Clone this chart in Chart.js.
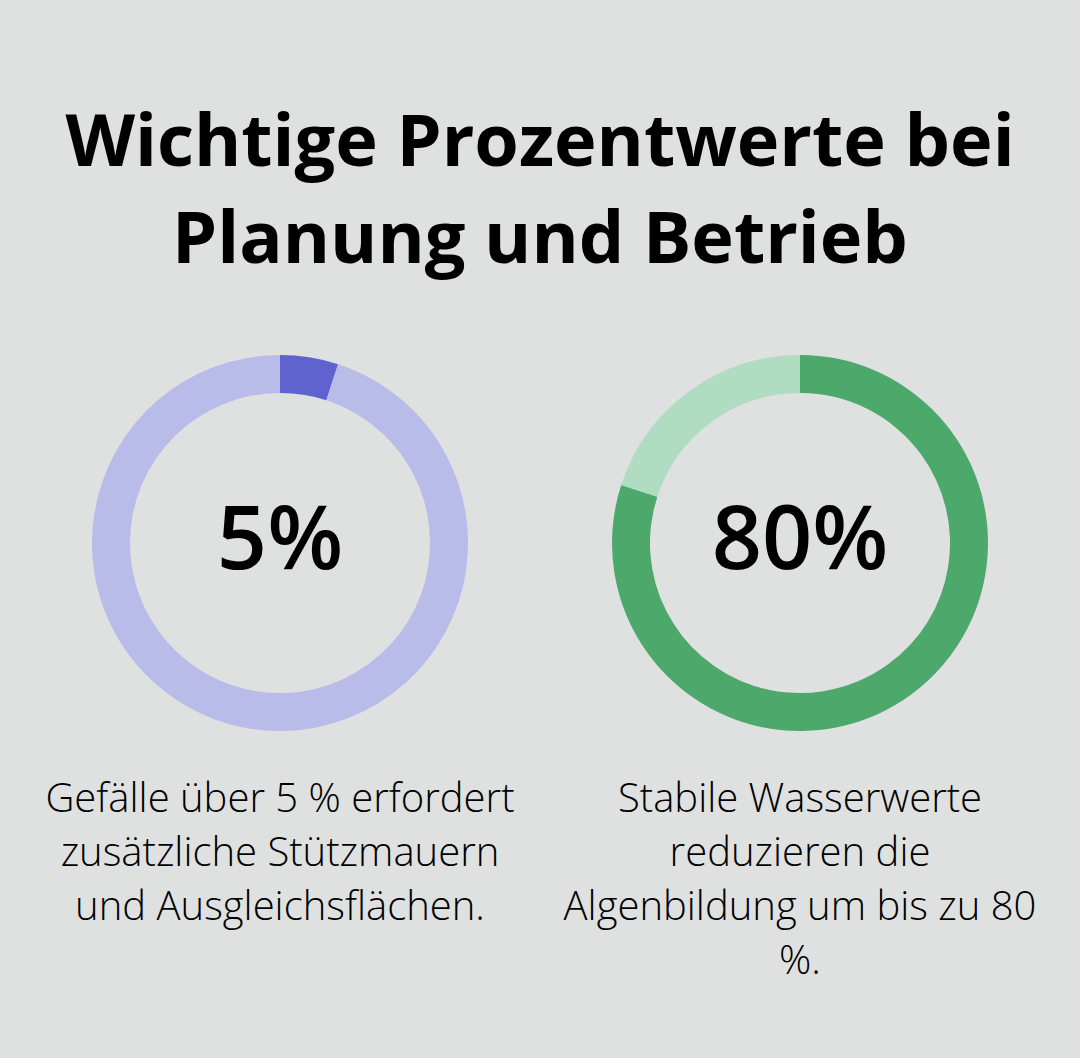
<!DOCTYPE html>
<html>
<head>
<meta charset="utf-8">
<script src="https://cdn.jsdelivr.net/npm/chart.js@4"></script>
<style>
  html, body { margin:0; padding:0; background:#dfe1e0; }
  body { width:1080px; height:1058px; position:relative; overflow:hidden; font-family:"Open Sans", sans-serif; color:#000; }
  #title { position:absolute; left:0; top:90px; width:1080px; text-align:center; font-weight:700; font-size:72px; line-height:97px; margin:0; }
  .box { position:absolute; width:376px; height:376px; top:355px; }
  .center { position:absolute; left:0; top:-8px; width:376px; height:376px; display:flex; align-items:center; justify-content:center; font-size:88px; font-weight:600; pointer-events:none; }
  .cap { position:absolute; top:770px; width:480px; text-align:center; font-size:40px; font-weight:300; line-height:54px; }
</style>
</head>
<body>
<h1 id="title">Wichtige Prozentwerte bei<br>Planung und Betrieb</h1>
<div class="box" style="left:92px"><canvas id="c1"></canvas><div class="center" id="v1"></div></div>
<div class="box" style="left:612px"><canvas id="c2"></canvas><div class="center" id="v2"></div></div>
<div class="cap" id="t1" style="left:40px"></div>
<div class="cap" id="t2" style="left:560px"></div>
<script>
const labels = ["Anteil", "Rest"];
const values1 = [5, 95];
const values2 = [80, 20];
const centerLabels = ["5%", "80%"];
const captions = [
  "Gefälle über 5 % erfordert zusätzliche Stützmauern und Ausgleichsflächen.",
  "Stabile Wasserwerte reduzieren die Algenbildung um bis zu 80 %."
];
const colors1 = ["#5f63cf", "#b9bce9"];
const colors2 = ["#4ca86b", "#b0dcc1"];

function makeChart(id, values, colors) {
  return new Chart(document.getElementById(id), {
    type: "doughnut",
    data: { labels: labels, datasets: [{ data: values, backgroundColor: colors, borderWidth: 0, hoverOffset: 0 }] },
    options: {
      responsive: true, maintainAspectRatio: false, animation: false,
      cutout: "79.8%",
      layout: { padding: 0 },
      plugins: { legend: { display: false }, tooltip: { enabled: false } },
      events: []
    }
  });
}
makeChart("c1", values1, colors1);
makeChart("c2", values2, colors2);
document.getElementById("v1").textContent = centerLabels[0];
document.getElementById("v2").textContent = centerLabels[1];
document.getElementById("t1").textContent = captions[0];
document.getElementById("t2").textContent = captions[1];
</script>
</body>
</html>
